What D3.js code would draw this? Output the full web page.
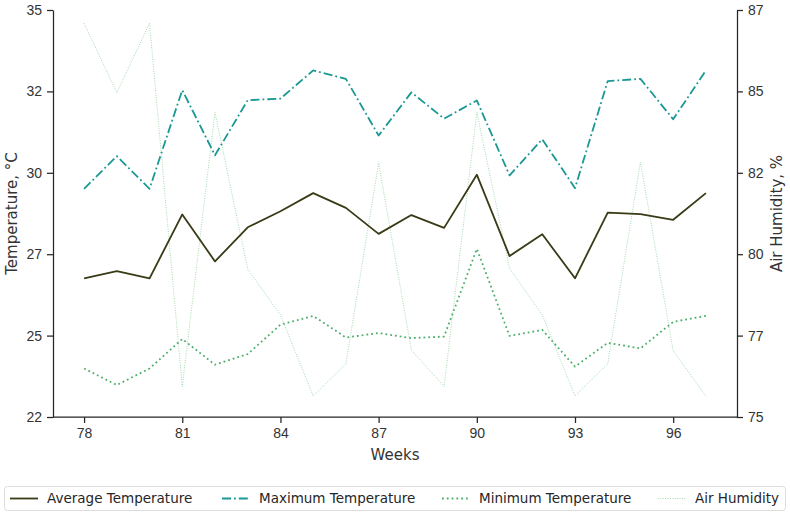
<!DOCTYPE html>
<html>
<head>
<meta charset="utf-8">
<script src="https://cdn.jsdelivr.net/npm/d3@7"></script>
<style>
    body { margin: 0; background: #fff; }
    svg { font-family: "DejaVu Sans", sans-serif; }
    .axis path, .axis line { stroke: #262626; stroke-width: 1.25; }
    .axis text { fill: #333; font-size: 14px; }
    .axis-label { fill: #333; font-size: 15px; }
    .legend-text { fill: #262626; font-size: 13.5px; }
</style>
</head>
<body>
<svg width="790" height="513"></svg>
<script>
// Sample data
var weeks = [78, 79, 80, 81, 82, 83, 84, 85, 86, 87, 88, 89, 90, 91, 92, 93, 94, 95, 96, 97];
var avgTemp = [26.43, 26.66, 26.43, 28.47, 26.97, 28.06, 28.57, 29.15, 28.68, 27.85,
               28.45, 28.04, 29.74, 27.14, 27.84, 26.43, 28.53, 28.48, 28.30, 29.15];
var maxTemp = [29.29, 30.33, 29.29, 32.44, 30.36, 32.12, 32.17, 33.07, 32.80, 30.99,
               32.37, 31.53, 32.11, 29.72, 30.87, 29.31, 32.73, 32.80, 31.51, 33.07];
var minTemp = [23.55, 23.02, 23.55, 24.49, 23.67, 24.01, 24.95, 25.23, 24.54, 24.68,
               24.52, 24.57, 27.37, 24.59, 24.78, 23.61, 24.37, 24.19, 25.04, 25.23];
var humidity = [86.61, 84.56, 86.61, 75.89, 83.98, 79.36, 78.01, 75.62, 76.57, 82.49,
                76.97, 75.90, 83.98, 79.38, 78.01, 75.62, 76.57, 82.52, 76.95, 75.62];
var xTicks = [78, 81, 84, 87, 90, 93, 96];
var tempDomain = [22, 35];
var humDomain = [75, 87];

var svg = d3.select("svg");
// plot box (note: "top" is reserved on window, so use plot* names)
var plotLeft = 53, plotRight = 737, plotTop = 10, plotBottom = 417;

var xScale = d3.scaleLinear()
    .domain([weeks[0] - 0.95, weeks[weeks.length - 1] + 0.95])
    .range([plotLeft, plotRight]);
var yTemp = d3.scaleLinear().domain(tempDomain).range([plotBottom, plotTop]);
var yHum = d3.scaleLinear().domain(humDomain).range([plotBottom, plotTop]);

// six evenly spaced ticks, shown rounded
function evenTicks(dom) {
    return d3.range(6).map(function (i) { return dom[0] + i * (dom[1] - dom[0]) / 5; });
}

// Axes
svg.append("g")
    .attr("class", "axis")
    .attr("transform", "translate(0," + plotBottom + ")")
    .call(d3.axisBottom(xScale).tickValues(xTicks).tickSize(6).tickPadding(5).tickSizeOuter(0))
    .call(g => g.select(".domain").attr("d", "M" + plotLeft + ",0H" + plotRight));

svg.append("g")
    .attr("class", "axis")
    .attr("transform", "translate(" + plotLeft + ",0)")
    .call(d3.axisLeft(yTemp).tickValues(evenTicks(tempDomain))
        .tickFormat(d3.format(".0f")).tickSize(6).tickPadding(5).tickSizeOuter(0));

svg.append("g")
    .attr("class", "axis")
    .attr("transform", "translate(" + plotRight + ",0)")
    .call(d3.axisRight(yHum).tickValues(evenTicks(humDomain))
        .tickFormat(d3.format(".0f")).tickSize(6).tickPadding(5).tickSizeOuter(0));

// Axis labels
svg.append("text").attr("class", "axis-label")
    .attr("x", (plotLeft + plotRight) / 2).attr("y", 460)
    .attr("text-anchor", "middle").text("Weeks");
svg.append("text").attr("class", "axis-label")
    .attr("transform", "translate(17," + (plotTop + plotBottom) / 2 + ") rotate(-90)")
    .attr("text-anchor", "middle").text("Temperature, °C");
svg.append("text").attr("class", "axis-label")
    .attr("transform", "translate(782," + (plotTop + plotBottom) / 2 + ") rotate(-90)")
    .attr("text-anchor", "middle").text("Air Humidity, %");

// Series
var series = [
    { name: "Average Temperature", values: avgTemp, y: yTemp, color: "#393a16", width: 1.8, dash: null },
    { name: "Maximum Temperature", values: maxTemp, y: yTemp, color: "#1a9893", width: 1.8, dash: "9,3,1.8,3" },
    { name: "Minimum Temperature", values: minTemp, y: yTemp, color: "#4caf6a", width: 1.8, dash: "1.8,3" },
    { name: "Air Humidity", values: humidity, y: yHum, color: "#8fd09d", width: 0.9, dash: "0.9,1.5" }
];

// draw humidity first so the temperatures sit on top
series.slice().reverse().forEach(function (s) {
    svg.append("path")
        .datum(weeks)
        .attr("fill", "none")
        .attr("stroke", s.color)
        .attr("stroke-width", s.width)
        .attr("stroke-dasharray", s.dash)
        .attr("stroke-linejoin", "round")
        .attr("d", d3.line()
            .x(function (d) { return xScale(d); })
            .y(function (d, i) { return s.y(s.values[i]); })
        );
});

// Legend
var legend = svg.append("g");
legend.append("rect")
    .attr("x", 4.5).attr("y", 486.5).attr("width", 781).attr("height", 24)
    .attr("rx", 3).attr("fill", "#fff").attr("stroke", "#dcdcdc");

var legendX = [10, 222, 442, 658];
series.forEach(function (s, i) {
    legend.append("line")
        .attr("x1", legendX[i]).attr("x2", legendX[i] + 28)
        .attr("y1", 498.5).attr("y2", 498.5)
        .attr("stroke", s.color)
        .attr("stroke-width", s.width)
        .attr("stroke-dasharray", s.dash);
    legend.append("text")
        .attr("class", "legend-text")
        .attr("x", legendX[i] + 37).attr("y", 503)
        .text(s.name);
});
</script>
</body>
</html>
